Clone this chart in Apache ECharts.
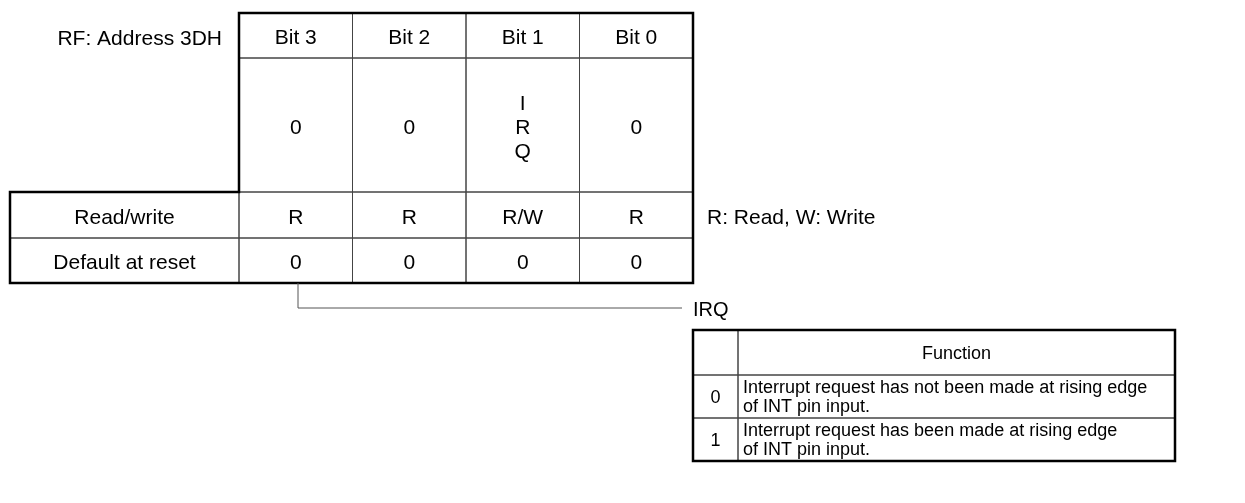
<!DOCTYPE html>
<html>
<head>
<meta charset="utf-8">
<script src="https://cdn.jsdelivr.net/npm/echarts@6/dist/echarts.min.js"></script>
<style>html,body{margin:0;padding:0;background:#fff;}#c{width:1245px;height:503px;}</style>
</head>
<body>
<div id="c"></div>
<script>
// ---- content ----
const registerTitle = 'RF: Address 3DH';
const bitHeaders = ['Bit 3', 'Bit 2', 'Bit 1', 'Bit 0'];
const bitNames = ['0', '0', 'I\nR\nQ', '0'];
const rowLabels = ['Read/write', 'Default at reset'];
const readWrite = ['R', 'R', 'R/W', 'R'];
const resetValues = ['0', '0', '0', '0'];
const rwNote = 'R: Read, W: Write';
const fieldName = 'IRQ';
const funcHeader = 'Function';
const funcValues = ['0', '1'];
const funcDescriptions = [
  'Interrupt request has not been made at rising edge\nof INT pin input.',
  'Interrupt request has been made at rising edge\nof INT pin input.'
];

// ---- layout (table grid lines in chart coordinates) ----
const regCols = [10, 239, 352.5, 466, 579.5, 693];
const regRows = [13, 58, 192, 238, 283];
const fnCols = [693, 738, 1175];
const fnRows = [330, 375, 418, 461];
const FONT = '"Liberation Sans", Arial, Helvetica, sans-serif';
const FS_REG = 21;
const FS_FN = 18;

// build cells
const cells = [];
bitHeaders.forEach((t, i) => cells.push({ t: 'reg', c: i + 1, r: 0, text: t }));
bitNames.forEach((t, i) => cells.push({ t: 'reg', c: i + 1, r: 1, text: t, lh: 24 }));
cells.push({ t: 'reg', c: 0, r: 2, text: rowLabels[0] });
readWrite.forEach((t, i) => cells.push({ t: 'reg', c: i + 1, r: 2, text: t }));
cells.push({ t: 'reg', c: 0, r: 3, text: rowLabels[1] });
resetValues.forEach((t, i) => cells.push({ t: 'reg', c: i + 1, r: 3, text: t }));
cells.push({ t: 'fn', c: 0, r: 0, text: '' });
cells.push({ t: 'fn', c: 1, r: 0, text: funcHeader });
funcValues.forEach((t, i) => {
  cells.push({ t: 'fn', c: 0, r: i + 1, text: t });
  cells.push({ t: 'fn', c: 1, r: i + 1, text: funcDescriptions[i], left: true, lh: 19 });
});

// free labels
const labels = [
  { text: registerTitle, x: 222, y: 39, align: 'right', fs: FS_REG },
  { text: rwNote, x: 707, y: 218, align: 'left', fs: FS_REG },
  { text: fieldName, x: 693, y: 310, align: 'left', fs: 20 }
];

// outlines
const outlines = [
  { pts: [[239, 13], [693, 13], [693, 283], [10, 283], [10, 192], [239, 192]], closed: true, w: 2.5, color: '#000' },
  { pts: [[693, 330], [1175, 330], [1175, 461], [693, 461]], closed: true, w: 2.5, color: '#000' },
  { pts: [[298, 283], [298, 308], [682, 308]], closed: false, w: 1, color: '#555' }
];

const chart = echarts.init(document.getElementById('c'), null, { renderer: 'canvas' });
chart.setOption({
  animation: false,
  backgroundColor: '#fff',
  grid: { left: 0, right: 0, top: 0, bottom: 0 },
  xAxis: { type: 'value', min: 0, max: 1245, show: false },
  yAxis: { type: 'value', min: 0, max: 503, inverse: true, show: false },
  series: [
    {
      type: 'custom',
      clip: false,
      data: cells.map(c => [c.c, c.r]),
      renderItem: function (params, api) {
        const cell = cells[params.dataIndex];
        const isReg = cell.t === 'reg';
        const cols = isReg ? regCols : fnCols;
        const rows = isReg ? regRows : fnRows;
        const p0 = api.coord([cols[cell.c], rows[cell.r]]);
        const p1 = api.coord([cols[cell.c + 1], rows[cell.r + 1]]);
        const x = Math.min(p0[0], p1[0]), y = Math.min(p0[1], p1[1]);
        const w = Math.abs(p1[0] - p0[0]), h = Math.abs(p1[1] - p0[1]);
        const fs = isReg ? FS_REG : FS_FN;
        return {
          type: 'group',
          children: [
            { type: 'rect', shape: { x: x, y: y, width: w, height: h },
              style: { fill: 'none', stroke: '#444', lineWidth: 1 } },
            { type: 'text',
              style: {
                text: cell.text,
                x: cell.left ? x + 5 : x + w / 2,
                y: y + h / 2 + (isReg ? 3 : 1.5),
                align: cell.left ? 'left' : 'center',
                verticalAlign: 'middle',
                fill: '#000',
                font: fs + 'px ' + FONT,
                lineHeight: cell.lh || fs + 2
              } }
          ]
        };
      }
    },
    {
      type: 'custom',
      clip: false,
      data: outlines.map((o, i) => [i, 0]),
      renderItem: function (params, api) {
        const o = outlines[params.dataIndex];
        const pts = o.pts.map(p => api.coord(p));
        return {
          type: o.closed ? 'polygon' : 'polyline',
          shape: { points: pts },
          style: { fill: 'none', stroke: o.color, lineWidth: o.w, lineJoin: 'miter' }
        };
      }
    },
    {
      type: 'custom',
      clip: false,
      data: labels.map((l, i) => [i, 0]),
      renderItem: function (params, api) {
        const l = labels[params.dataIndex];
        const p = api.coord([l.x, l.y]);
        return {
          type: 'text',
          style: { text: l.text, x: p[0], y: p[1], align: l.align, verticalAlign: 'middle',
                   fill: '#000', font: l.fs + 'px ' + FONT }
        };
      }
    }
  ]
});
</script>
</body>
</html>
